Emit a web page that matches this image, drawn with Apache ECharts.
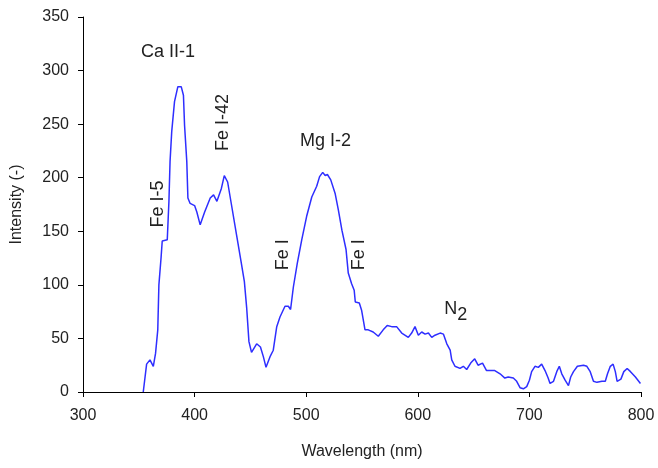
<!DOCTYPE html>
<html lang="en">
<head>
    <meta charset="UTF-8">
    <title>Spectrum</title>
    <script src="https://cdn.jsdelivr.net/npm/echarts@6/dist/echarts.min.js"></script>
    <style>
        html, body { margin: 0; padding: 0; background: #fff; }
        #main { width: 658px; height: 468px; }
    </style>
</head>
<body>
<div id="main"></div>

<script type="text/javascript">
    // wavelength (nm) and intensity
    var wavelength = [354, 357, 360, 363, 365, 367, 368, 370, 371, 375.5, 377, 378, 379.5, 382, 385, 388, 390, 391, 393, 394,
        396, 400, 402, 405, 409, 414, 417, 420, 424, 426.6, 429.6, 433, 437.7, 441.6, 444.6, 446.7, 448.7, 451, 455.6, 459,
        461.6, 464, 467.6, 470.5, 473.6, 476.5, 481, 484, 486, 488.5, 492, 496, 500.4, 505, 509.4, 512, 514.8, 517, 519, 522,
        526, 528.8, 532, 535.7, 537.7, 540.7, 543, 544, 547.6, 549.7, 552.7, 555.6, 560, 564.6, 569, 572.6, 576.6, 581, 585.6, 591.5,
        594.5, 597.5, 600.5, 603.5, 606.5, 609.5, 612.5, 615.4, 620, 623, 626, 629, 630.4, 633.3, 637.8, 640.8, 643.8, 647.4, 651, 654,
        658, 661.6, 664.7, 669, 673.7, 678, 681, 685.6, 688.6, 691.6, 694.6, 697.6, 700, 702, 705, 708, 711, 714, 716.8, 718.5,
        721.6, 724.5, 726.8, 729, 732, 735, 737, 739.5, 743, 748.5, 751.5, 754.5, 757.4, 760.5, 765, 768, 770, 772.5, 775, 777,
        778.6, 782, 784.6, 787.6, 790.6, 795, 799.5];
    var intensity = [0, 26, 30, 24, 36, 58, 100, 126, 141, 142, 178, 215, 243, 271, 285, 285, 277, 249, 215, 181,
        176, 174, 168, 156, 168, 181, 184, 178, 190, 202, 196, 175, 146, 122, 103, 78, 47, 37, 45, 42,
        33, 23, 33, 39, 61, 70, 80, 80, 77, 98, 120, 142, 164, 182, 192, 201, 205, 202, 203, 198,
        185, 170, 151, 133, 111, 101, 95, 84, 83, 76, 58, 58, 56, 52, 58, 62, 61, 61, 55, 51,
        55, 61, 53, 56, 54, 55, 51, 53, 55, 54, 45, 39, 30, 24, 22, 24, 21, 27, 31, 25,
        27, 20, 20, 20, 17, 13, 14, 13, 10, 4, 3, 5, 11, 19, 24, 23, 26, 20, 13, 8,
        10, 19, 24, 17, 11, 6, 14, 19, 24, 25, 24, 19, 10, 9, 10, 10, 17, 24, 26, 19,
        10, 12, 19, 22, 19, 14, 8];

    // line annotations: text, position [nm, intensity], rotation
    var labelText = ['Ca II-1', 'Fe I-5', 'Fe I-42', 'Mg I-2', 'Fe I', 'Fe I', '{n|N}{s|2}'];
    var labelPos = [[376.2, 317], [366.8, 175.5], [425.4, 251.5], [517.3, 234], [478.8, 128], [547.3, 128], [634, 77]];
    var labelRot = [0, 90, 90, 0, 90, 90, 0];

    var xTicks = [300, 800, 100];
    var yTicks = [0, 350, 50];

    var chart = echarts.init(document.getElementById('main'), null, {renderer: 'canvas'});

    var seriesData = wavelength.map(function (w, i) { return [w, intensity[i]]; });

    var marks = labelText.map(function (t, i) {
        return {
            coord: labelPos[i],
            symbolSize: 0,
            label: {
                show: true,
                position: 'inside',
                formatter: t,
                rotate: labelRot[i]
            }
        };
    });

    var textFont = 'Liberation Sans, Arial, sans-serif';

    var option = {
        backgroundColor: '#fff',
        animation: false,
        grid: {left: 83, right: 17, top: 17, bottom: 76},
        xAxis: {
            type: 'value',
            min: xTicks[0], max: xTicks[1], interval: xTicks[2],
            name: 'Wavelength (nm)',
            nameLocation: 'middle',
            nameGap: 52,
            nameTextStyle: {fontFamily: textFont, fontSize: 16, color: '#222'},
            axisLine: {onZero: false, lineStyle: {color: '#000', width: 1}},
            axisTick: {show: true, length: 5, lineStyle: {color: '#000'}},
            axisLabel: {fontFamily: textFont, fontSize: 16, color: '#222', margin: 16},
            splitLine: {show: false}
        },
        yAxis: {
            type: 'value',
            min: yTicks[0], max: yTicks[1], interval: yTicks[2],
            name: 'Intensity (-)',
            nameLocation: 'middle',
            nameGap: 58,
            nameTextStyle: {fontFamily: textFont, fontSize: 16, color: '#222'},
            axisLine: {show: true, lineStyle: {color: '#000', width: 1}},
            axisTick: {show: true, length: 5, lineStyle: {color: '#000'}},
            axisLabel: {fontFamily: textFont, fontSize: 16, color: '#222', margin: 14},
            splitLine: {show: false}
        },
        series: [{
            type: 'line',
            data: seriesData,
            showSymbol: false,
            smooth: false,
            lineStyle: {color: '#2e2eff', width: 1.5},
            markPoint: {
                symbol: 'circle',
                silent: true,
                label: {
                    fontFamily: textFont,
                    fontSize: 18,
                    color: '#222',
                    rich: {
                        n: {fontFamily: textFont, fontSize: 18, color: '#222'},
                        s: {fontFamily: textFont, fontSize: 18, color: '#222', padding: [12, 0, 0, 0]}
                    }
                },
                data: marks
            }
        }]
    };

    chart.setOption(option);
</script>
</body>
</html>
